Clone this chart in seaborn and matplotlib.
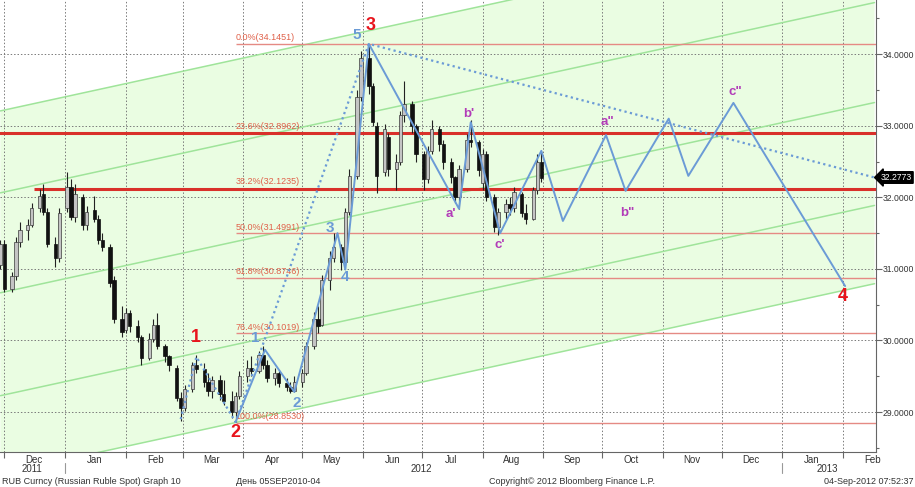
# RUB spot daily candles with Elliott-wave markup, Fibonacci retracements and a green channel.

import pandas as pd
import numpy as np
import seaborn as sns
import matplotlib.pyplot as plt
import matplotlib.dates as mdates
from matplotlib.transforms import blended_transform_factory
from matplotlib.ticker import MultipleLocator, FormatStrFormatter

sns.set_theme(style="white")
plt.rcParams['font.family'] = ['Liberation Sans', 'DejaVu Sans']

# Candles, one every second business day from 29 Nov 2011.
opens = [31.05, 31.35, 30.72, 30.90, 31.38, 31.55, 31.62, 31.85, 32.05, 31.80,
         31.35, 31.15, 31.85, 32.15, 31.72, 32.00, 31.62, 31.82, 31.70, 31.40,
         31.30, 30.85, 30.30, 30.15, 30.38, 30.20, 30.05, 29.75, 30.02, 30.22,
         29.92, 29.78, 29.62, 29.20, 29.05, 29.32, 29.65, 29.60, 29.42, 29.30,
         29.45, 29.25, 29.15, 29.00, 29.22, 29.50, 29.62, 29.58, 29.80, 29.65,
         29.48, 29.55, 29.40, 29.35, 29.30, 29.42, 29.55, 29.92, 30.30, 30.22,
         30.85, 31.15, 31.30, 31.10, 31.80, 32.30, 33.40, 33.95, 33.55, 33.00,
         32.35, 32.85, 32.40, 32.50, 33.15, 33.30, 33.00, 32.60, 32.25, 32.65,
         32.95, 32.75, 32.50, 32.28, 32.00, 32.40, 32.80, 32.78, 32.20, 32.60,
         32.00, 31.58, 31.80, 31.90, 31.85, 32.05, 31.78, 31.70, 32.10, 32.50]
highs = [31.40, 31.40, 30.95, 31.45, 31.65, 31.70, 31.92, 32.12, 32.18, 31.85,
         31.45, 31.85, 32.35, 32.25, 32.18, 32.05, 31.88, 32.02, 31.75, 31.50,
         31.35, 30.90, 30.48, 30.45, 30.42, 30.28, 30.08, 30.10, 30.30, 30.38,
         29.95, 29.80, 29.65, 29.28, 29.38, 29.70, 29.80, 29.68, 29.55, 29.50,
         29.52, 29.45, 29.30, 29.28, 29.58, 29.72, 29.78, 29.85, 29.92, 29.72,
         29.62, 29.58, 29.48, 29.42, 29.50, 29.60, 29.98, 30.40, 30.48, 30.92,
         31.25, 31.50, 31.35, 31.85, 32.40, 33.50, 34.05, 34.145, 33.60, 33.05,
         33.02, 32.90, 32.60, 33.20, 33.62, 33.35, 33.02, 32.65, 32.72, 33.08,
         33.00, 32.80, 32.55, 32.30, 32.45, 32.88, 33.08, 32.80, 32.68, 32.65,
         32.05, 31.85, 31.98, 32.00, 32.15, 32.08, 31.90, 32.15, 32.60, 32.65]
lows = [31.00, 30.68, 30.68, 30.85, 31.30, 31.40, 31.58, 31.80, 31.75, 31.30,
        31.02, 31.10, 31.80, 31.68, 31.65, 31.55, 31.55, 31.65, 31.35, 31.25,
        30.75, 30.25, 30.05, 30.10, 30.12, 29.98, 29.66, 29.72, 29.98, 29.88,
        29.70, 29.58, 29.15, 28.87, 29.02, 29.28, 29.55, 29.35, 29.22, 29.20,
        29.17, 29.10, 28.92, 28.86, 29.18, 29.42, 29.50, 29.55, 29.60, 29.42,
        29.38, 29.35, 29.30, 29.27, 29.28, 29.35, 29.52, 29.88, 30.10, 30.20,
        30.70, 31.10, 30.98, 31.05, 31.75, 32.25, 33.35, 33.45, 33.00, 32.06,
        32.30, 32.30, 32.10, 32.45, 33.05, 32.90, 32.50, 32.10, 32.20, 32.60,
        32.65, 32.40, 32.20, 31.92, 31.84, 32.35, 32.70, 32.30, 32.10, 31.95,
        31.52, 31.48, 31.70, 31.75, 31.80, 31.72, 31.63, 31.68, 32.05, 32.22]
closes = [31.35, 30.72, 30.90, 31.38, 31.55, 31.62, 31.85, 32.02, 31.80, 31.35,
          31.15, 31.78, 32.15, 31.72, 32.05, 31.62, 31.80, 31.70, 31.40, 31.30,
          30.80, 30.30, 30.12, 30.38, 30.20, 30.05, 29.75, 30.02, 30.22, 29.92,
          29.78, 29.65, 29.20, 29.05, 29.32, 29.65, 29.60, 29.42, 29.30, 29.45,
          29.25, 29.15, 29.00, 29.22, 29.50, 29.62, 29.58, 29.80, 29.65, 29.48,
          29.55, 29.40, 29.35, 29.30, 29.42, 29.55, 29.92, 30.30, 30.20, 30.85,
          31.15, 31.30, 31.10, 31.80, 32.30, 33.40, 33.95, 33.55, 33.05, 32.30,
          32.95, 32.40, 32.50, 33.15, 33.30, 33.00, 32.60, 32.25, 32.65, 32.95,
          32.75, 32.50, 32.28, 32.00, 32.40, 32.80, 32.78, 32.38, 32.60, 32.00,
          31.58, 31.80, 31.90, 31.85, 32.08, 31.78, 31.70, 32.10, 32.50, 32.2773]
last_price = 32.2773

# Fibonacci retracement levels
fib_pct = ["0.0%", "23.6%", "38.2%", "50.0%", "61.8%", "76.4%", "100.0%"]
fib_values = [34.1451, 32.8962, 32.1235, 31.4991, 30.8746, 30.1019, 28.8530]
fib_starts = ["2012-03-28", "2011-11-28", "2011-12-16", "2012-03-28",
              "2012-03-28", "2012-03-28", "2012-03-28"]
fib_thick = [False, True, True, False, False, False, False]

# Channel lines (value at the left and right edges of the chart)
channel_dates = ["2011-11-29", "2013-02-17"]
channel_left = [33.208, 32.063, 30.666, 29.228, 28.138]
channel_right = [35.867, 34.722, 33.325, 31.887, 30.793]

# Wave paths
wave_dates = ["2012-03-28", "2012-04-12", "2012-04-27", "2012-05-19", "2012-05-23",
              "2012-06-04", "2012-07-20", "2012-07-26", "2012-08-10", "2012-08-31",
              "2012-09-11", "2012-10-03", "2012-10-13", "2012-11-04", "2012-11-14",
              "2012-12-07", "2013-02-02"]
wave_values = [28.86, 29.87, 29.28, 31.50, 30.99, 34.1451, 31.84, 33.05, 31.50, 32.65,
               31.67, 32.87, 32.09, 33.10, 32.30, 33.32, 30.76]
dotted_dates = ["2012-02-29", "2012-03-08", "2012-03-28", "2012-06-04", "2013-02-17"]
dotted_values = [28.90, 29.77, 28.86, 34.1451, 32.2773]

# Wave labels: text, date, value, colour group
labels = [("1", "2012-03-08", 30.04, "red"), ("2", "2012-03-28", 28.72, "red"),
          ("3", "2012-06-05", 34.40, "red"), ("4", "2013-02-01", 30.62, "red"),
          ("1", "2012-04-07", 30.04, "blue"), ("2", "2012-04-28", 29.13, "blue"),
          ("3", "2012-05-15", 31.57, "blue"), ("4", "2012-05-23", 30.89, "blue"),
          ("5", "2012-05-29", 34.27, "blue"),
          ("a'", "2012-07-16", 31.77, "purple"), ("b'", "2012-07-25", 33.17, "purple"),
          ("c'", "2012-08-10", 31.34, "purple"), ('a"', "2012-10-04", 33.05, "purple"),
          ('b"', "2012-10-14", 31.78, "purple"), ('c"', "2012-12-08", 33.47, "purple")]

label_style = {"red": dict(color="#e8141c", fontsize=13, fontweight="bold"),
               "blue": dict(color="#6b9bd6", fontsize=11, fontweight="bold"),
               "purple": dict(color="#b23cb8", fontsize=9.5, fontweight="bold")}

candles = pd.DataFrame({"date": pd.bdate_range("2011-11-29", periods=len(closes), freq="2B"),
                        "open": opens, "high": highs, "low": lows, "close": closes})

fig, ax = plt.subplots(figsize=(9.15, 4.87), dpi=100)
fig.subplots_adjust(left=0, right=875.7 / 915, top=1, bottom=1 - 452 / 487)

x0 = mdates.date2num(pd.Timestamp("2011-12-01")) - 2.19
x1 = mdates.date2num(pd.Timestamp("2011-12-01")) + 444.6
ax.set_xlim(x0, x1)
ax.set_ylim(28.441, 34.758)

# channel
cd = pd.to_datetime(channel_dates)
ax.fill_between(cd, [channel_left[0], channel_right[0]], [channel_left[-1], channel_right[-1]],
                color="#eafde2", zorder=0, lw=0)
for l, r in zip(channel_left, channel_right):
    ax.plot(cd, [l, r], color="#9fe49a", lw=1.1, zorder=2)

# grid
for m in pd.date_range("2011-12-01", "2013-02-01", freq="MS"):
    ax.axvline(m, color="#7a7a7a", lw=0.7, ls=(0, (1.5, 2)), zorder=1)
for v in range(29, 35):
    ax.axhline(v, color="#7a7a7a", lw=0.7, ls=(0, (1.5, 2)), zorder=1)

# fibonacci
for pct, val, start, thick in zip(fib_pct, fib_values, fib_starts, fib_thick):
    s = mdates.date2num(pd.Timestamp(start))
    ax.plot([s, x1], [val, val], color="#d9302a" if thick else "#e58a84",
            lw=2.2 if thick else 1.0, zorder=3, solid_capstyle="butt")
    ax.text(mdates.date2num(pd.Timestamp("2012-03-28")), val + (0.035 if thick else 0.02),
            f"{pct}({val:.4f})", fontsize=6.5, color="#e0614a", ha="left", va="bottom", zorder=6)

# candles
up = candles["close"] >= candles["open"]
ax.vlines(candles["date"], candles["low"], candles["high"], color="#222222", lw=0.8, zorder=4)
body_lo = np.minimum(candles["open"], candles["close"])
body_h = np.maximum(np.abs(candles["close"] - candles["open"]), 0.01)
ax.bar(candles["date"][up], body_h[up], bottom=body_lo[up], width=1.7,
       color="#c4c4c4", edgecolor="#3a3a3a", lw=0.5, zorder=5)
ax.bar(candles["date"][~up], body_h[~up], bottom=body_lo[~up], width=1.7,
       color="#111111", edgecolor="#111111", lw=0.5, zorder=5)

# waves
waves = pd.DataFrame({"date": pd.to_datetime(wave_dates), "value": wave_values})
dotted = pd.DataFrame({"date": pd.to_datetime(dotted_dates), "value": dotted_values})
sns.lineplot(data=waves, x="date", y="value", sort=False, color="#6b9bd6", lw=1.4, ax=ax, zorder=7)
sns.lineplot(data=dotted, x="date", y="value", sort=False, color="#6b9bd6", lw=1.6,
             ls=(0, (1, 1.5)), ax=ax, zorder=7)

for txt, d, v, grp in labels:
    ax.text(mdates.date2num(pd.Timestamp(d)), v, txt, ha="center", va="center", zorder=8,
            **label_style[grp])

# axes styling
ax.set_xlabel("")
ax.set_ylabel("")
for side in ["top", "left"]:
    ax.spines[side].set_visible(False)
for side in ["bottom", "right"]:
    ax.spines[side].set_color("#666666")
    ax.spines[side].set_linewidth(0.8)

ax.yaxis.tick_right()
ax.yaxis.set_major_locator(MultipleLocator(1))
ax.yaxis.set_minor_locator(MultipleLocator(0.5))
ax.yaxis.set_major_formatter(FormatStrFormatter("%.4f"))
ax.tick_params(axis="y", which="major", length=4, width=0.8, color="#666666", pad=1,
               labelsize=6.2, labelcolor="#333333", right=True, left=False)
ax.tick_params(axis="y", which="minor", length=2.5, width=0.8, color="#666666", right=True, left=False)

ax.xaxis.set_major_locator(mdates.MonthLocator())
ax.xaxis.set_major_formatter(plt.NullFormatter())
ax.xaxis.set_minor_locator(mdates.MonthLocator(bymonthday=16))
ax.xaxis.set_minor_formatter(mdates.DateFormatter("%b"))
ax.tick_params(axis="x", which="major", length=4, width=0.8, color="#666666", bottom=True)
ax.tick_params(axis="x", which="minor", length=0, pad=2, labelsize=7, labelcolor="#333333")

tb = blended_transform_factory(ax.transData, ax.transAxes)
for yr, d in [("2011", "2011-12-15"), ("2012", "2012-07-01"), ("2013", "2013-01-24")]:
    ax.text(mdates.date2num(pd.Timestamp(d)), -0.038, yr, transform=tb, ha="center",
            va="center", fontsize=7, color="#333333")
for d in ["2012-01-01", "2013-01-01"]:
    xd = mdates.date2num(pd.Timestamp(d))
    ax.plot([xd, xd], [-0.024, -0.046], transform=tb, color="#999999", lw=0.8, clip_on=False)

# last price box
tl = blended_transform_factory(ax.transAxes, ax.transData)
ax.text(1.0 + 5 / 875.7, last_price, f"{last_price:.4f}", transform=tl, ha="left", va="center",
        fontsize=6.2, color="white", zorder=10,
        bbox=dict(boxstyle="larrow,pad=0.15", fc="black", ec="black"))

fig.text(2 / 915, 1 - 481 / 487, "RUB Curncy (Russian Ruble Spot) Graph 10", fontsize=6.5,
         color="#333333", va="center")
fig.text(236 / 915, 1 - 481 / 487, "День 05SEP2010-04", fontsize=6.5, color="#333333", va="center")
fig.text(489 / 915, 1 - 481 / 487, "Copyright© 2012 Bloomberg Finance L.P.", fontsize=6.5,
         color="#333333", va="center")
fig.text(913 / 915, 1 - 481 / 487, "04-Sep-2012 07:52:37", fontsize=6.5, color="#333333",
         va="center", ha="right")

fig.savefig("out.png", dpi=100, facecolor="white")
